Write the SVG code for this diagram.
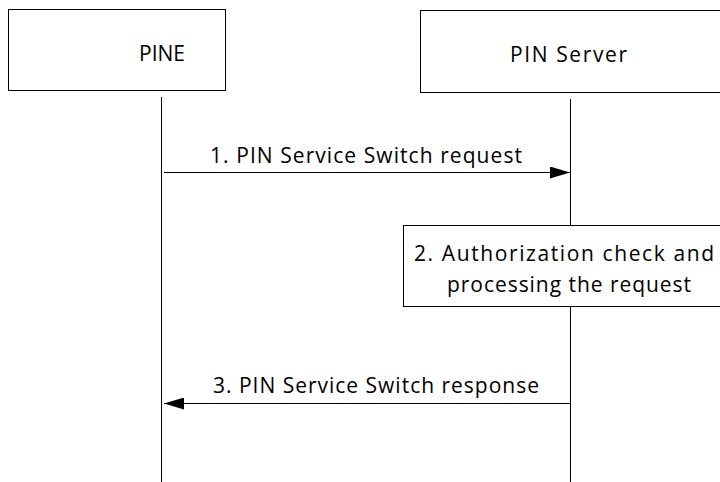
<svg xmlns="http://www.w3.org/2000/svg" width="720" height="482" viewBox="0 0 720 482">
<style>
.box{fill:#fff;stroke:#000;stroke-width:1}
.life{stroke:#000;stroke-width:1}
.msg{stroke:#000;stroke-width:1;fill:none}
text{font-family:"Open Sans","Liberation Sans",sans-serif;font-size:21px;fill:#000}
</style>
<defs>
<marker id="ah" markerWidth="20" markerHeight="12" refX="20" refY="6" orient="auto" markerUnits="userSpaceOnUse">
<path d="M0,0 L20,6 L0,12 Z" fill="#000"/>
</marker>
</defs>
<rect width="720" height="482" fill="#fff"/>
<g id="pine">
<rect class="box" x="8.5" y="9.5" width="217" height="81"/>
<text x="139" y="61" textLength="46" lengthAdjust="spacing">PINE</text>
<line class="life" x1="161.5" y1="97" x2="161.5" y2="482"/>
</g>
<g id="pinserver">
<rect class="box" x="420.5" y="10.5" width="310" height="82"/>
<text x="510" y="62" textLength="117" lengthAdjust="spacing">PIN Server</text>
<line class="life" x1="570.5" y1="99" x2="570.5" y2="482"/>
</g>
<g id="step2">
<rect class="box" x="403.5" y="225.5" width="330" height="81"/>
<text x="414" y="261" textLength="300" lengthAdjust="spacing">2. Authorization check and</text>
<text x="447" y="292" textLength="244" lengthAdjust="spacing">processing the request</text>
</g>
<g id="connectors">
<line class="msg" x1="164" y1="172.5" x2="570" y2="172.5" marker-end="url(#ah)"/>
<text x="210" y="163" textLength="312" lengthAdjust="spacing">1. PIN Service Switch request</text>
<line class="msg" x1="570" y1="403.5" x2="164" y2="403.5" marker-end="url(#ah)"/>
<text x="213" y="393" textLength="326" lengthAdjust="spacing">3. PIN Service Switch response</text>
</g>
</svg>
